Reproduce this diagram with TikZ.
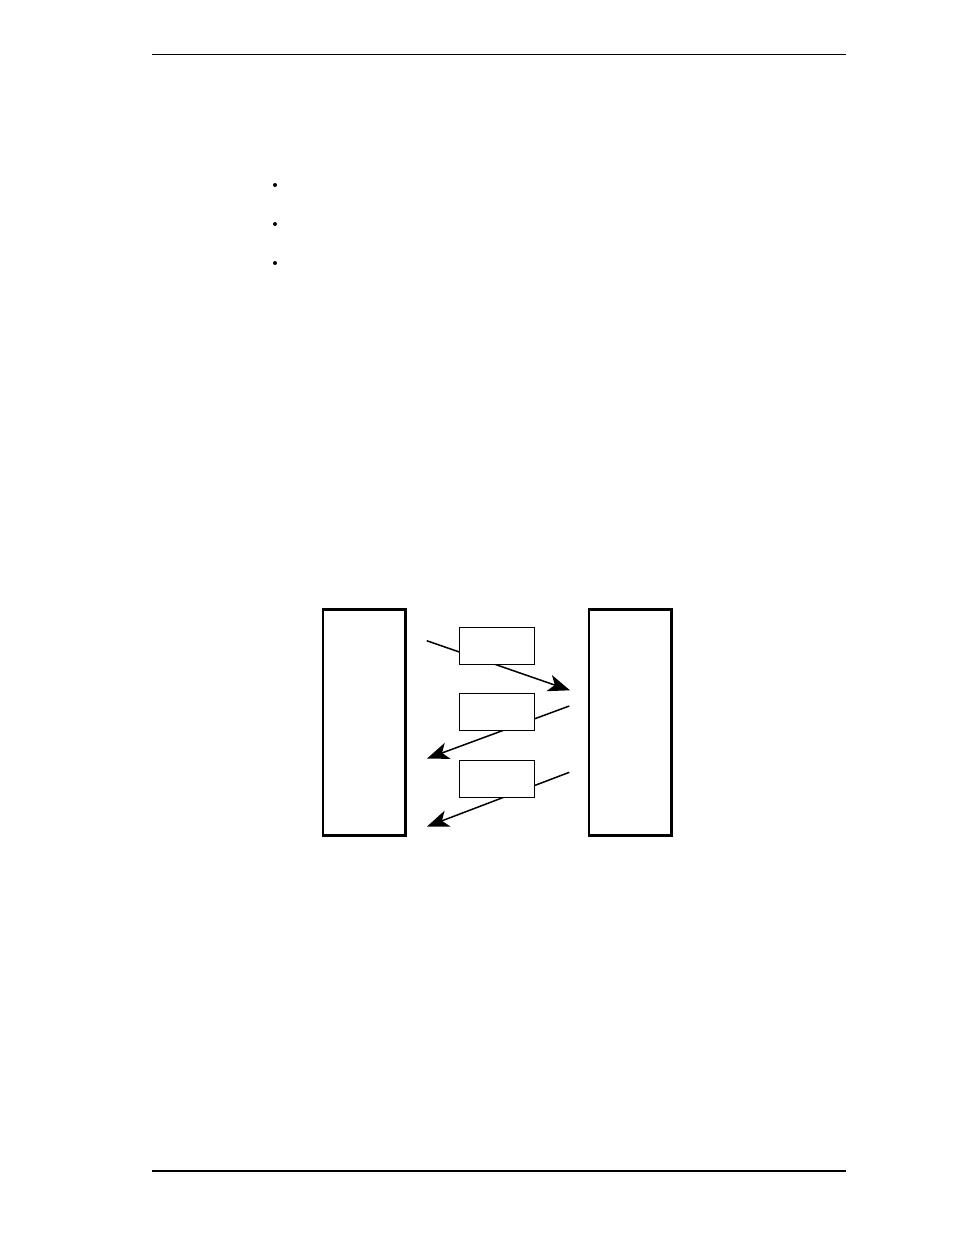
\documentclass[tikz,border=0pt]{standalone}
\usetikzlibrary{arrows.meta}
\begin{document}
\begin{tikzpicture}[x=1pt,y=-1pt,
  bigbox/.style={draw,line width=2.7pt,minimum width=82.5pt,minimum height=226.3pt,inner sep=0pt},
  msgbox/.style={draw,fill=white,line width=1pt,minimum width=75pt,minimum height=37pt,inner sep=0pt},
  flow/.style={line width=1.5pt,-{Stealth[length=22pt,width=17pt,inset=6pt]}},
  rule/.style={line width=1pt},
  bul/.style={circle,fill=black,inner sep=0pt,minimum size=4pt}]
\useasboundingbox (0,0) rectangle (954,1235);
% header and footer rules
\coordinate (hl) at (152,54.5);
\coordinate (hr) at (846,54.5);
\coordinate (fl) at (152,1170.5);
\coordinate (fr) at (846,1170.5);
\draw[rule] (hl) -- (hr);
\draw[line width=2pt] (fl) -- (fr);
% bullets
\node[bul] (b1) at (275,185) {};
\node[bul] (b2) at (275,224) {};
\node[bul] (b3) at (275,263) {};
% big boxes
\node[bigbox] (L) at (364.2,722.5) {};
\node[bigbox] (R) at (630.2,722.5) {};
% arrow end points
\coordinate (a1s) at (426.7,640.7);
\coordinate (a1e) at (570,690.3);
\coordinate (a2s) at (569.3,706);
\coordinate (a2e) at (427,758.5);
\coordinate (a3s) at (569.3,772.3);
\coordinate (a3e) at (427,826.5);
\draw[flow] (a1s) -- (a1e);
\draw[flow] (a2s) -- (a2e);
\draw[flow] (a3s) -- (a3e);
% message boxes
\node[msgbox] (m1) at (497,646) {};
\node[msgbox] (m2) at (497,712) {};
\node[msgbox] (m3) at (497,779) {};
\end{tikzpicture}
\end{document}
